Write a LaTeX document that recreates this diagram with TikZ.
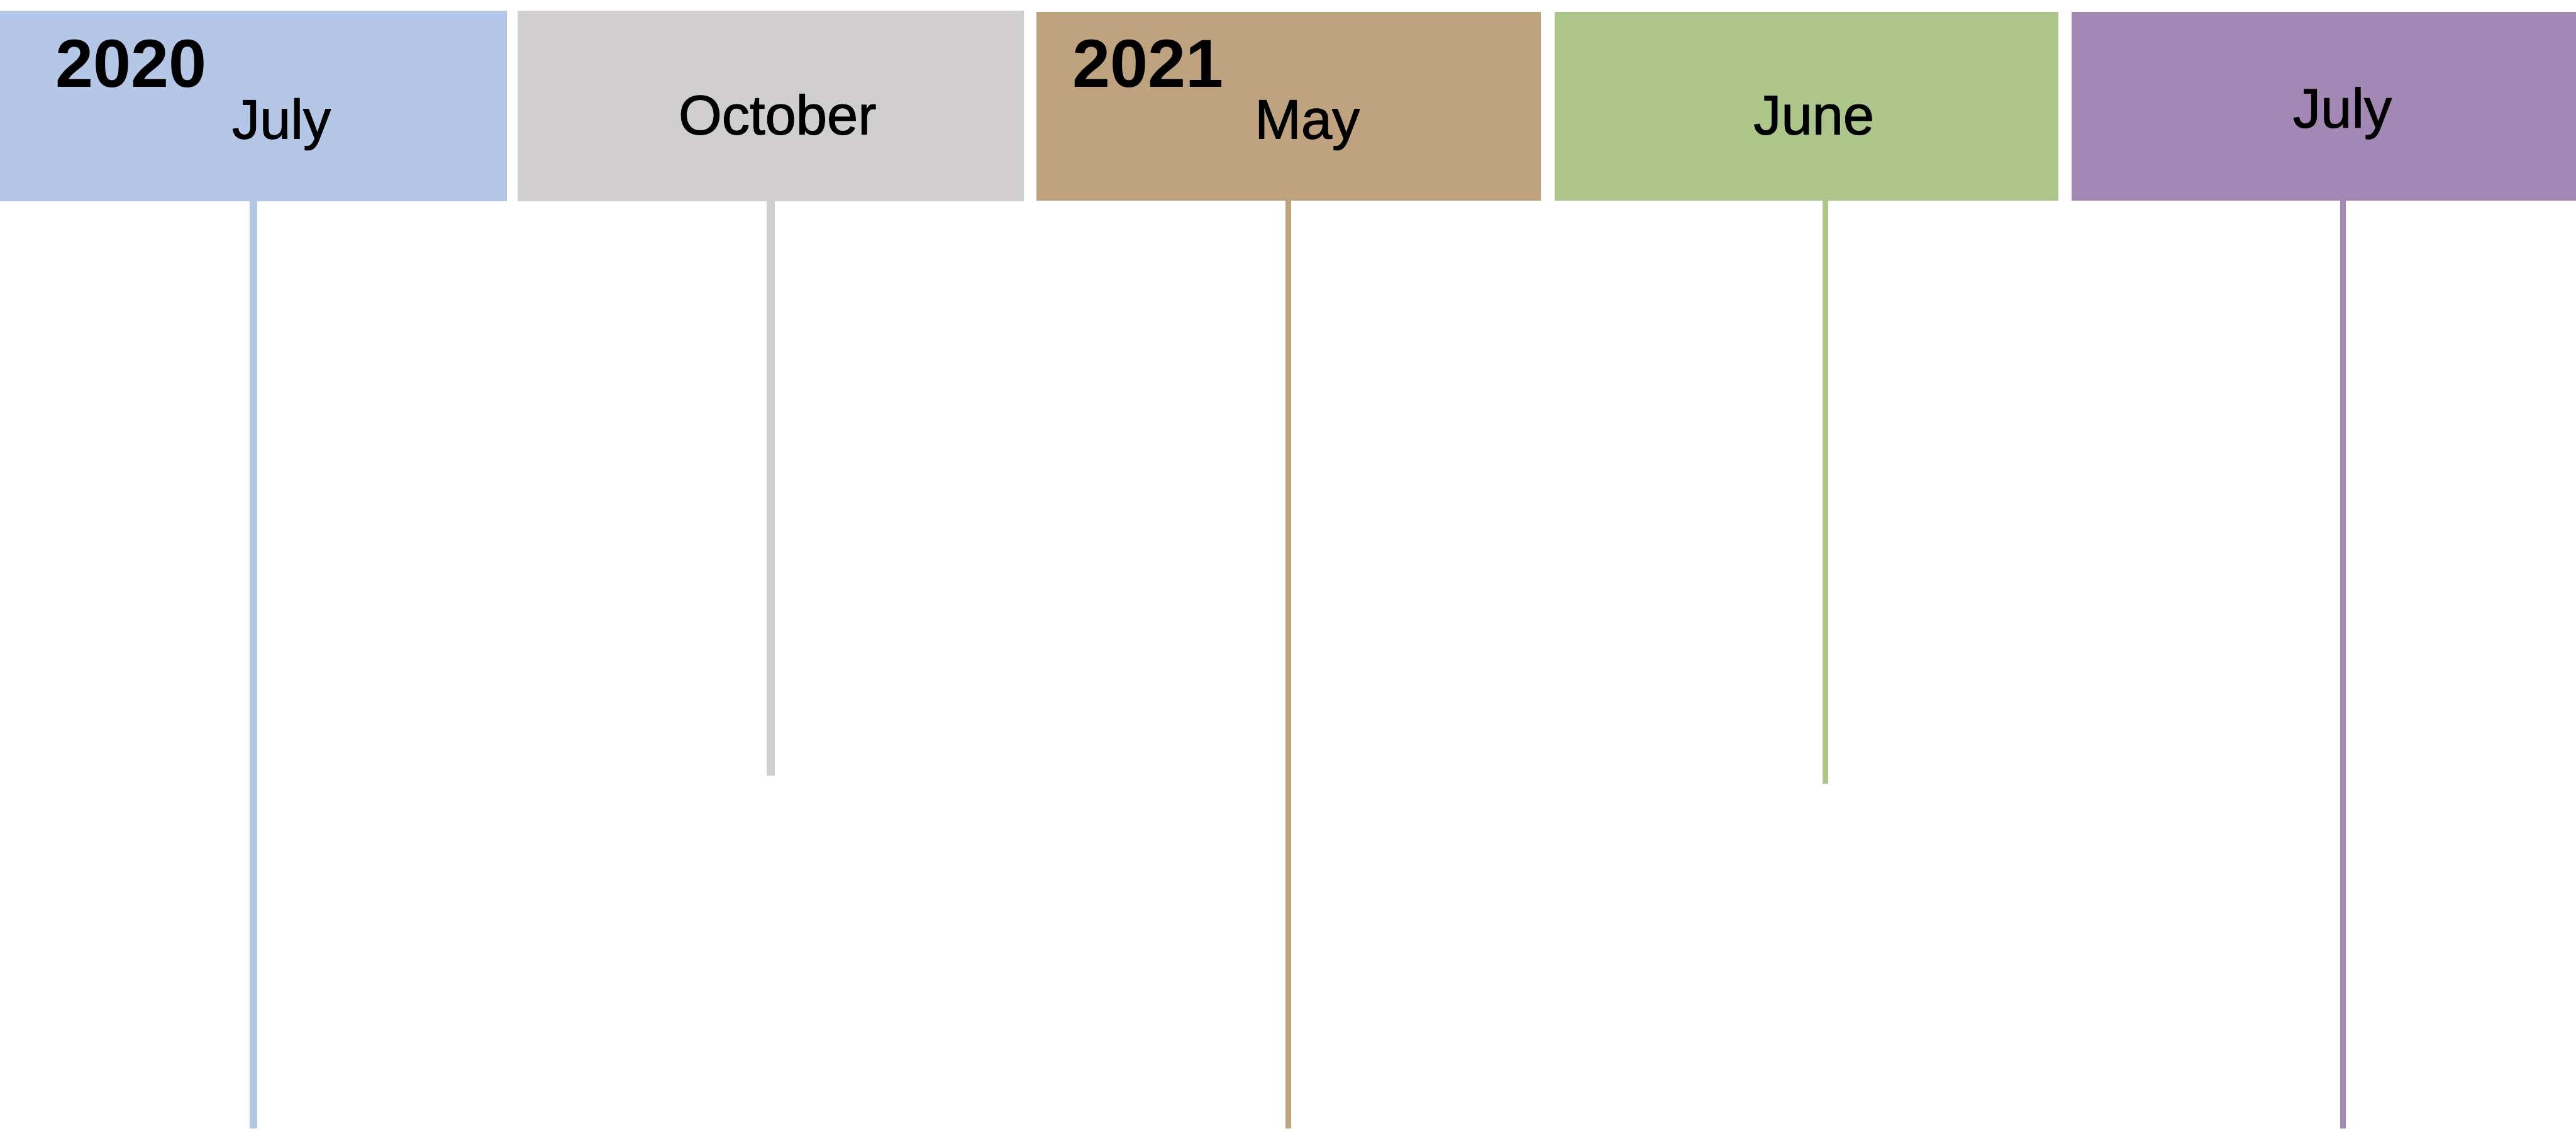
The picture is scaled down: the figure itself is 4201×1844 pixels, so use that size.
\documentclass[tikz,border=0pt]{standalone}
\usepackage{fontspec}
\setmainfont{Liberation Sans}
\newfontfamily\monthfont[FakeBold=1.2]{Liberation Sans}
\definecolor{cblue}{HTML}{B4C7E7}
\definecolor{cgray}{HTML}{D0CECE}
\definecolor{cbrown}{HTML}{BFA37F}
\definecolor{cgreen}{HTML}{ADC78A}
\definecolor{cpurple}{HTML}{A387B5}
\tikzset{
  yeartext/.style={anchor=base, inner sep=0pt, font=\fontsize{31.5}{36}\selectfont\bfseries},
  monthtext/.style={anchor=base, inner sep=0pt, font=\monthfont\fontsize{25.8}{30}\selectfont},
  stem/.style={line cap=butt}
}
\begin{document}
\begin{tikzpicture}[x=0.01cm, y=-0.01cm]
\useasboundingbox (0,0) rectangle (4201,1844);
% boxes
\fill[cblue]   (0,17)    rectangle (827,328)  coordinate (b1se);
\fill[cgray]   (844,17)  rectangle (1670,328) coordinate (b2se);
\fill[cbrown]  (1690,19) rectangle (2513,327) coordinate (b3se);
\fill[cgreen]  (2535,19) rectangle (3357,327) coordinate (b4se);
\fill[cpurple] (3378,19) rectangle (4201,327) coordinate (b5se);
% stem end points
\coordinate (e1) at (413,1840);
\coordinate (e2) at (1257,1265);
\coordinate (e3) at (2101,1840);
\coordinate (e4) at (2977,1278);
\coordinate (e5) at (3821,1840);
% stems
\draw[stem, cblue,   line width=0.12cm] (e1 |- b1se) -- (e1);
\draw[stem, cgray,   line width=0.13cm] (e2 |- b2se) -- (e2);
\draw[stem, cbrown,  line width=0.09cm] (e3 |- b3se) -- (e3);
\draw[stem, cgreen,  line width=0.10cm] (e4 |- b4se) -- (e4);
\draw[stem, cpurple, line width=0.10cm] (e5 |- b5se) -- (e5);
% texts
\node[yeartext]  (y2020) at (214,142)  {2020};
\node[monthtext] (m1)    at (459,226)  {July};
\node[monthtext] (m2)    at (1268,219) {October};
\node[yeartext]  (y2021) at (1872,142) {2021};
\node[monthtext] (m3)    at (2132,226) {May};
\node[monthtext] (m4)    at (2958,219) {June};
\node[monthtext] (m5)    at (3820,208) {July};
\end{tikzpicture}
\end{document}
